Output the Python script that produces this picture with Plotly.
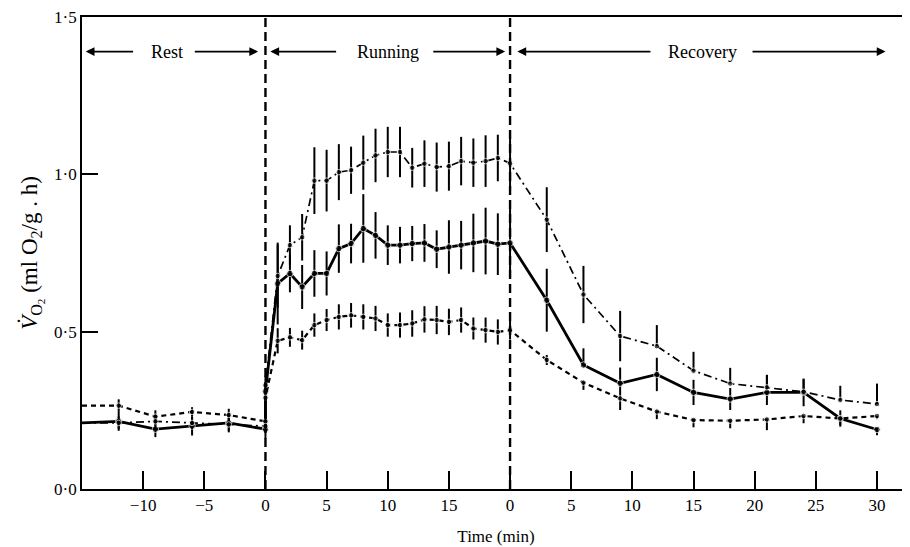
import plotly.graph_objects as go

# ---------------- data ----------------
RUN_LEN = 20  # running phase length (min); recovery axis starts here

rest_t = [-15, -12, -9, -6, -3, 0]
run_t = list(range(0, 21))
rec_t = [3, 6, 9, 12, 15, 18, 21, 24, 27, 30]

# solid line series
solid_rest = [0.21, 0.215, 0.19, 0.20, 0.21, 0.19]
solid_rest_err = [0, 0.03, 0.025, 0.03, 0.03, 0.03]
solid_run = [0.31, 0.653, 0.685, 0.642, 0.685, 0.685, 0.764, 0.780, 0.828, 0.806, 0.775,
             0.775, 0.780, 0.782, 0.762, 0.769, 0.775, 0.782, 0.788, 0.778, 0.782]
solid_run_err = [0.03, 0.13, 0.06, 0.07, 0.074, 0.07, 0.077, 0.063, 0.109, 0.074, 0.063,
                 0.058, 0.056, 0.06, 0.06, 0.085, 0.077, 0.093, 0.106, 0.098, 0.11]
solid_rec = [0.600, 0.394, 0.336, 0.364, 0.307, 0.286, 0.307, 0.307, 0.224, 0.189]
solid_rec_up = [0.10, 0.053, 0.05, 0.053, 0.04, 0.035, 0.055, 0.044, 0.026, 0.005]
solid_rec_down = [0.10, 0.0, 0.05, 0.053, 0.04, 0.035, 0.04, 0.044, 0.026, 0.018]

# dashed line series
dashed_rest = [0.265, 0.265, 0.23, 0.245, 0.235, 0.215]
dashed_rest_err = [0, 0.02, 0.02, 0.015, 0.02, 0.02]
dashed_run = [0.29, 0.471, 0.482, 0.473, 0.521, 0.537, 0.547, 0.552, 0.547, 0.542, 0.521,
              0.521, 0.526, 0.539, 0.537, 0.531, 0.537, 0.510, 0.505, 0.499, 0.505]
dashed_run_err = [0.02, 0.04, 0.03, 0.03, 0.037, 0.035, 0.04, 0.039, 0.04, 0.04, 0.037,
                  0.04, 0.042, 0.042, 0.045, 0.042, 0.04, 0.035, 0.04, 0.04, 0.03]
dashed_rec = [0.410, 0.338, 0.288, 0.246, 0.219, 0.217, 0.221, 0.232, 0.224, 0.232]
dashed_rec_up = [0.016, 0.0, 0.0, 0.0, 0.0, 0.0, 0.0, 0.0, 0.0, 0.0]
dashed_rec_down = [0.016, 0.023, 0.037, 0.024, 0.023, 0.024, 0.034, 0.023, 0.021, 0.01]

# dash-dot line series
dashdot_rest = [0.21, 0.21, 0.215, 0.21, 0.205, 0.20]
dashdot_rest_err = [0, 0.02, 0.02, 0.02, 0.02, 0.02]
dashdot_run = [0.33, 0.677, 0.775, 0.80, 0.98, 0.98, 1.007, 1.013, 1.037, 1.06, 1.071,
               1.071, 1.021, 1.034, 1.023, 1.026, 1.042, 1.037, 1.042, 1.052, 1.035]
dashdot_run_err = [0.03, 0.10, 0.063, 0.074, 0.106, 0.098, 0.089, 0.075, 0.086, 0.085, 0.08,
                   0.08, 0.063, 0.074, 0.078, 0.078, 0.077, 0.077, 0.082, 0.074, 0.083]
dashdot_rec = [0.856, 0.618, 0.486, 0.454, 0.376, 0.335, 0.323, 0.309, 0.283, 0.270]
dashdot_rec_up = [0.103, 0.091, 0.08, 0.067, 0.06, 0.05, 0.04, 0.04, 0.045, 0.065]
dashdot_rec_down = [0.103, 0.091, 0.08, 0.0, 0.0, 0.0, 0.0, 0.0, 0.0, 0.0]

tick_vals = [-10, -5, 0, 5, 10, 15, 20, 25, 30, 35, 40, 45, 50]
tick_text = ["\u221210", "\u22125", "0", "5", "10", "15", "0", "5", "10", "15", "20", "25", "30"]
y_tick_vals = [0, 0.5, 1.0, 1.5]
y_tick_text = ["0\u00b70", "0\u00b75", "1\u00b70", "1\u00b75"]

FONT = "Liberation Serif, Times New Roman, serif"

# ---------------- build ----------------
x_all = rest_t + run_t + [RUN_LEN + t for t in rec_t]


def series(rest, rest_err, run, run_err, rec, rec_up, rec_down):
    y = rest + run + rec
    up = rest_err + run_err + rec_up
    down = rest_err + run_err + rec_down
    return y, up, down


fig = go.Figure()
styles = [
    ((solid_rest, solid_rest_err, solid_run, solid_run_err, solid_rec, solid_rec_up, solid_rec_down),
     dict(width=2.8, dash="solid"), 6.5),
    ((dashed_rest, dashed_rest_err, dashed_run, dashed_run_err, dashed_rec, dashed_rec_up, dashed_rec_down),
     dict(width=2.2, dash="5px,4px"), 5.5),
    ((dashdot_rest, dashdot_rest_err, dashdot_run, dashdot_run_err, dashdot_rec, dashdot_rec_up, dashdot_rec_down),
     dict(width=1.7, dash="8px,4px,2px,4px"), 5.5),
]
for args, line, msize in styles:
    y, up, down = series(*args)
    sizes = [0] + [msize] * (len(x_all) - 1)
    fig.add_trace(go.Scatter(
        x=x_all, y=y, mode="lines+markers",
        line=dict(color="black", **line),
        marker=dict(color="black", size=sizes, symbol="circle"),
        error_y=dict(type="data", symmetric=False, array=up, arrayminus=down,
                     color="black", thickness=2.0, width=0),
        showlegend=False, hoverinfo="skip",
    ))

# phase boundaries
for xb in (0, RUN_LEN):
    fig.add_shape(type="line", x0=xb, x1=xb, y0=0, y1=1.5, xref="x", yref="y",
                  line=dict(color="black", width=2.4, dash="9px,5px"))

# phase labels with arrows
ARROW_Y = 1.39
label_specs = [
    ("Rest", -14.7, -10.7, -8.05, -5.9, -0.6),
    ("Running", 0.4, 5.9, 10.0, 13.6, 19.6),
    ("Recovery", 20.6, 31.6, 35.7, 39.7, 50.7),
]
for text, lhead, ltail, xc, rtail, rhead in label_specs:
    fig.add_annotation(x=xc, y=ARROW_Y, text=text, showarrow=False,
                       font=dict(family=FONT, size=18, color="black"))
    for head, tail in ((lhead, ltail), (rhead, rtail)):
        fig.add_annotation(x=head, y=ARROW_Y, ax=tail, ay=ARROW_Y, axref="x", ayref="y",
                           xref="x", yref="y", text="", showarrow=True,
                           arrowhead=2, arrowsize=1.1, arrowwidth=1.6, arrowcolor="black")

# the page body has an 8px margin; size the figure so the plot lands where the reference's does
fig.update_layout(
    width=902, height=539,
    margin=dict(l=74, r=0, t=9, b=58),
    paper_bgcolor="white", plot_bgcolor="white",
    font=dict(family=FONT, color="black", size=17),
    xaxis=dict(range=[-15, 52.7], showgrid=False, zeroline=False, automargin=False,
               showline=True, linecolor="black", linewidth=1.8, mirror=True,
               ticks="inside", ticklen=18, tickwidth=1.8, tickcolor="black",
               tickvals=tick_vals, ticktext=tick_text,
               tickfont=dict(family=FONT, size=17),
               title=dict(text="Time (min)", font=dict(family=FONT, size=17), standoff=16)),
    yaxis=dict(range=[0, 1.5], showgrid=False, zeroline=False, automargin=False,
               showline=True, linecolor="black", linewidth=1.8,
               ticks="inside", ticklen=16, tickwidth=1.8, tickcolor="black",
               tickvals=y_tick_vals, ticktext=y_tick_text, ticklabeloverflow="allow",
               tickfont=dict(family=FONT, size=17),
               title=dict(text="<i>V\u0307</i><sub>O<sub>2</sub></sub> (ml O<sub>2</sub>/g . h)",
                          font=dict(family=FONT, size=23), standoff=10)),
)

fig.write_html("out.html")
